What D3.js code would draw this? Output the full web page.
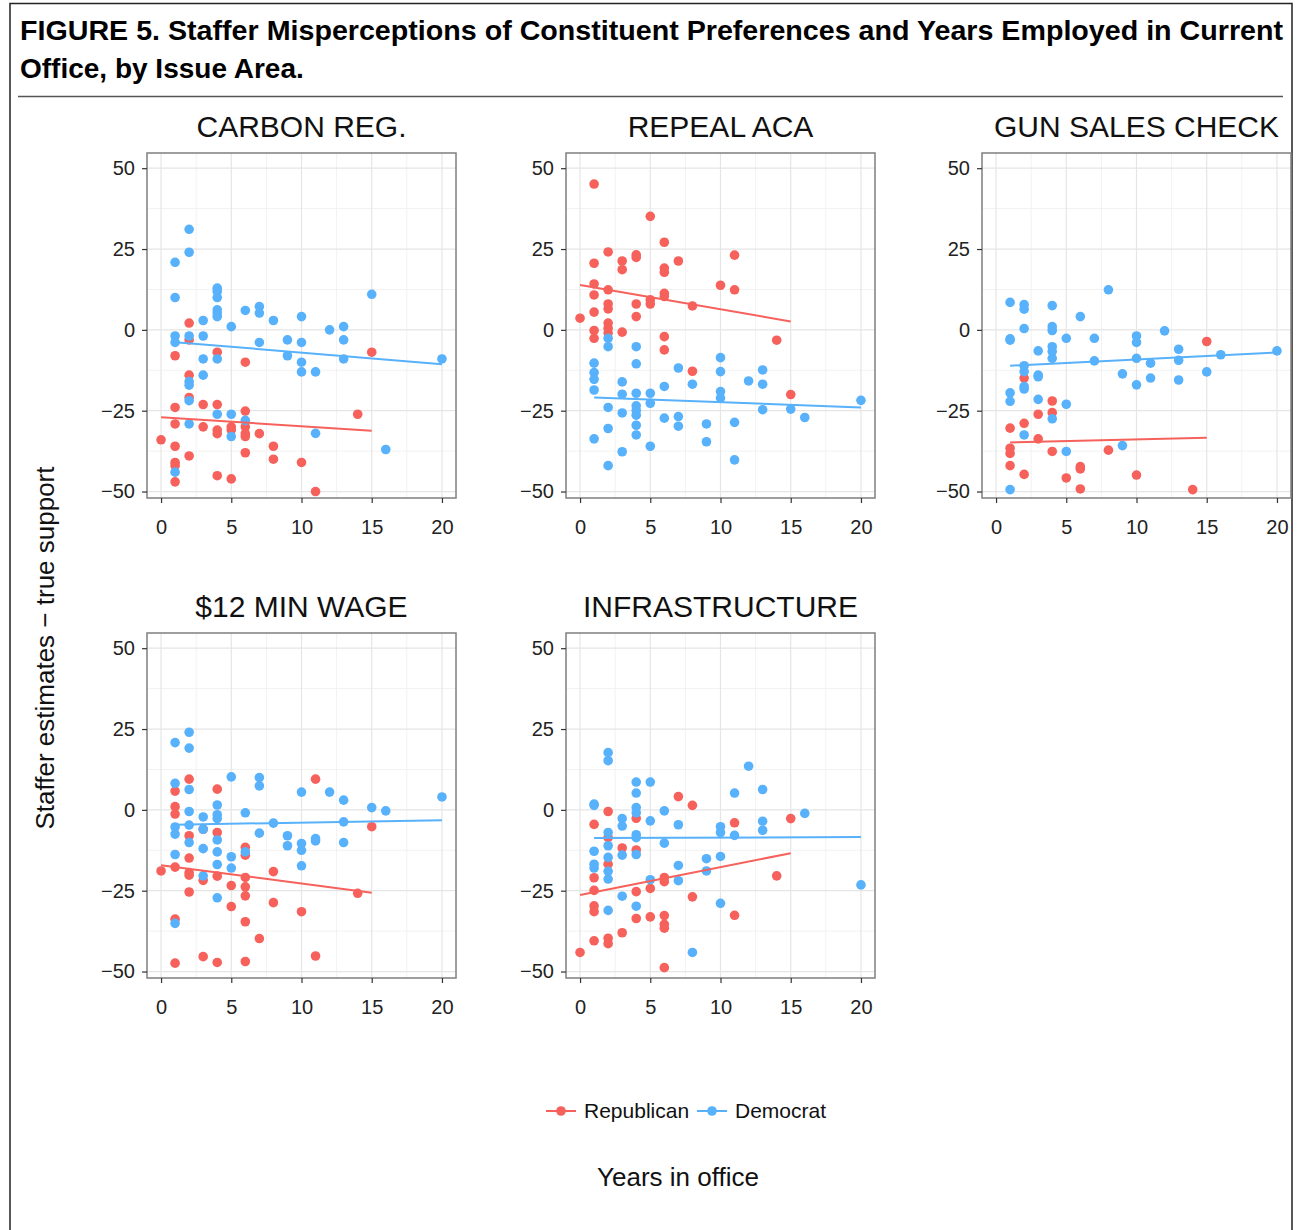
<!DOCTYPE html>
<html>
<head>
<meta charset="utf-8">
<script src="https://cdn.jsdelivr.net/npm/d3@7"></script>
<style>
	body { margin: 0; background: #fff; }
	text { font-family: "Liberation Sans", Arial, Helvetica, sans-serif; }
</style>
</head>
<body>
<div id="container"></div>
<script>
// Chart dimensions
const width = 1300;
const height = 1230;

const red = "#F6615B";
const blue = "#58B1FB";

const panelTitles = ["CARBON REG.", "REPEAL ACA", "GUN SALES CHECK", "$12 MIN WAGE", "INFRASTRUCTURE"];
const parties = ["Republican", "Democrat"];
const xTicks = [0, 5, 10, 15, 20];
const yTicks = [-50, -25, 0, 25, 50];

// [years in office, staffer estimate - true support]
const carbonRep = [[2,2.1],[2,-3.1],[1,-8.0],[4,-6.9],[6,-10.0],[2,-14.0],[2,-20.9],[1,-24.0],[3,-23.1],[4,-23.1],[6,-25.1],[1,-29.1],[3,-30.0],[4,-31.0],[4,-32.1],[5,-30.0],[5,-31.0],[6,-30.0],[6,-32.1],[6,-33.0],[7,-32.1],[14,-26.1],[15,-6.9],[0,-34.0],[1,-36.0],[8,-36.0],[2,-39.0],[6,-38.0],[8,-40.0],[10,-41.0],[1,-41.0],[1,-42.0],[4,-45.1],[5,-46.1],[1,-47.0],[11,-50.0]];
const carbonDem = [[2,31.1],[2,24.0],[1,20.9],[1,10.0],[4,12.9],[4,11.9],[4,10.0],[4,6.2],[4,5.2],[4,4.1],[3,2.9],[5,1.0],[6,6.0],[7,7.2],[7,5.2],[8,2.9],[10,4.1],[15,11.0],[1,-1.9],[1,-3.9],[2,-1.9],[3,-1.9],[7,-3.9],[9,-3.1],[10,-3.9],[12,0],[13,1.0],[13,-3.1],[9,-8.0],[10,-10.0],[10,-13.0],[11,-13.0],[13,-9.0],[20,-9.0],[3,-9.0],[4,-9.0],[3,-14.0],[2,-16.0],[2,-17.1],[2,-21.9],[2,-29.1],[4,-26.1],[5,-26.1],[6,-28.0],[5,-33.0],[11,-32.0],[16,-37.0],[1,-44.0]];

const acaRep = [[1,45.1],[5,35.1],[6,27.1],[2,24.1],[4,23.2],[4,22.4],[3,21.3],[3,18.6],[1,20.6],[7,21.3],[6,19.1],[6,17.8],[11,23.1],[1,14.2],[1,10.8],[2,12.4],[10,13.8],[11,12.4],[1,5.5],[0,3.6],[2,8.0],[2,6.5],[4,8.0],[4,4.1],[5,9.3],[5,8.0],[6,11.3],[6,10.3],[8,7.4],[2,2.1],[2,0.5],[2,-1.0],[1,-0.2],[1,-2.6],[3,-0.7],[6,-2.1],[6,-6.2],[14,-3.2],[8,-12.8],[15,-20.0]];
const acaDem = [[2,-2.6],[2,-5.2],[4,-5.2],[1,-10.3],[4,-10.5],[1,-13.2],[1,-15.3],[1,-18.6],[7,-11.8],[10,-8.6],[10,-12.9],[13,-12.4],[12,-15.8],[13,-16.8],[3,-16.1],[8,-16.8],[6,-17.5],[3,-19.9],[4,-19.6],[5,-19.6],[5,-22.7],[4,-23.5],[4,-24.9],[4,-26.4],[10,-19.1],[10,-21.1],[2,-24.0],[3,-25.7],[6,-27.3],[7,-26.8],[7,-29.8],[13,-24.7],[15,-24.5],[16,-27.1],[20,-21.8],[9,-29.1],[11,-28.6],[4,-29.5],[4,-32.5],[2,-30.5],[1,-33.7],[9,-34.6],[5,-36.0],[3,-37.7],[2,-42.0],[11,-40.2]];

const gunRep = [[15,-3.6],[2,-14.9],[4,-22.0],[4,-25.6],[3,-26.1],[2,-28.9],[1,-30.4],[3,-33.7],[1,-36.6],[1,-38.2],[4,-37.6],[8,-37.2],[1,-42.0],[2,-44.7],[6,-42.3],[6,-43.0],[5,-45.8],[10,-44.9],[6,-49.2],[14,-49.4]];
const gunDem = [[8,12.4],[1,8.5],[2,7.8],[2,6.4],[4,7.5],[6,4.1],[2,0.4],[4,1.0],[4,-0.2],[1,-2.8],[1,-3.2],[5,-2.6],[7,-2.6],[10,-1.9],[10,-3.9],[12,-0.3],[3,-6.5],[4,-5.2],[4,-6.7],[4,-8.8],[7,-9.6],[10,-8.8],[11,-10.3],[13,-6.0],[13,-9.4],[16,-7.7],[20,-6.5],[2,-11.1],[2,-12.9],[3,-14.0],[3,-14.5],[9,-13.6],[10,-17.0],[11,-14.9],[13,-15.5],[15,-13.0],[2,-17.5],[2,-18.3],[1,-19.5],[1,-22.1],[3,-21.5],[5,-23.0],[4,-27.5],[2,-32.5],[9,-35.8],[5,-37.6],[1,-49.4]];

const wageRep = [[2,9.5],[4,6.4],[11,9.5],[1,5.8],[1,1.0],[1,-1.3],[2,-8.0],[3,-6.0],[4,-7.0],[15,-5.2],[6,-11.6],[6,-14.0],[2,-14.9],[0,-18.9],[1,-17.7],[2,-19.4],[2,-20.2],[3,-21.8],[4,-20.5],[6,-20.9],[6,-23.8],[8,-19.1],[5,-23.4],[2,-25.4],[6,-26.6],[14,-25.8],[5,-29.9],[8,-28.7],[10,-31.5],[1,-33.8],[6,-34.6],[7,-39.8],[3,-45.4],[11,-45.2],[1,-47.4],[4,-47.2],[6,-46.9]];
const wageDem = [[2,24.0],[1,20.8],[2,19.1],[5,10.2],[7,10.0],[7,7.4],[1,8.2],[2,6.3],[10,5.5],[12,5.5],[13,3.0],[15,0.7],[16,-0.3],[20,4.0],[4,1.5],[2,-0.5],[3,-2.2],[4,-1.5],[4,-2.7],[6,-0.9],[1,-5.3],[1,-7.5],[2,-4.7],[3,-6.0],[8,-4.1],[13,-3.7],[4,-9.3],[2,-10.1],[7,-7.2],[9,-8.0],[9,-11.1],[10,-10.4],[10,-12.5],[11,-8.9],[11,-9.6],[13,-10.1],[3,-12.0],[4,-13.0],[6,-13.0],[1,-13.8],[5,-14.5],[4,-16.9],[5,-18.0],[10,-17.3],[3,-20.4],[4,-27.2],[1,-35.1]];

const infraRep = [[7,4.1],[8,1.4],[2,-0.5],[4,-2.6],[1,-4.5],[15,-2.7],[11,-4.0],[2,-8.6],[3,-11.8],[4,-12.4],[2,-16.8],[14,-20.4],[1,-21.0],[6,-20.9],[6,-22.2],[1,-24.9],[4,-25.3],[5,-24.3],[8,-26.9],[1,-29.7],[1,-31.5],[11,-32.6],[5,-33.1],[4,-33.6],[6,-32.7],[6,-35.4],[6,-36.6],[3,-38.0],[1,-40.5],[2,-39.7],[2,-41.4],[0,-44.1],[6,-48.8]];
const infraDem = [[2,17.7],[2,15.2],[12,13.5],[4,8.6],[5,8.6],[4,5.2],[11,5.2],[13,6.3],[1,1.8],[1,1.4],[4,0.7],[4,-0.9],[6,-0.3],[16,-1.1],[3,-2.7],[3,-5.0],[5,-3.4],[7,-4.6],[13,-3.5],[13,-6.3],[10,-5.2],[10,-7.0],[11,-7.9],[2,-7.0],[2,-11.1],[4,-7.7],[4,-8.6],[6,-10.3],[1,-12.8],[2,-14.7],[3,-14.0],[4,-13.8],[9,-15.1],[10,-14.4],[1,-16.8],[1,-18.0],[2,-19.0],[2,-21.4],[7,-17.2],[9,-18.9],[5,-21.6],[7,-21.9],[3,-26.7],[10,-28.9],[4,-29.8],[2,-31.1],[8,-44.1],[20,-23.2]];

// Linear fit end points: [x0, y0, x1, y1]
const fitRep = [[0,-27.0,15,-31.2],[0,13.9,15,2.6],[1,-34.8,15,-33.4],[0,-17.1,15,-25.6],[0,-26.3,15,-13.4]];
const fitDem = [[1,-3.8,20,-10.6],[1,-20.9,20,-24.0],[1,-11.1,20,-7.0],[1,-4.6,20,-3.2],[1,-8.7,20,-8.4]];

const repData = [carbonRep, acaRep, gunRep, wageRep, infraRep];
const demData = [carbonDem, acaDem, gunDem, wageDem, infraDem];

// Panel layout
const panelW = 309;
const panelH = 345;
const colLeft = [147, 566, 982];
const rowTop = [153, 633];

const x = d3.scaleLinear()
	.domain([-1, 21])
	.range([0, panelW]);

const y = d3.scaleLinear()
	.domain([-52, 54.7])
	.range([panelH, 0]);

const svg = d3.select("#container").append("svg")
	.attr("width", width)
	.attr("height", height)
	.style("display", "block");

// Frame
svg.append("rect")
	.attr("x", 10)
	.attr("y", 3.5)
	.attr("width", 1282)
	.attr("height", 1240)
	.attr("fill", "none")
	.attr("stroke", "#222")
	.attr("stroke-width", 1.5);

// Figure title
svg.append("text")
	.attr("x", 20)
	.attr("y", 40)
	.attr("font-size", 27)
	.attr("font-weight", "bold")
	.attr("textLength", 1263)
	.attr("lengthAdjust", "spacingAndGlyphs")
	.text("FIGURE 5. Staffer Misperceptions of Constituent Preferences and Years Employed in Current");

svg.append("text")
	.attr("x", 20)
	.attr("y", 78)
	.attr("font-size", 28)
	.attr("font-weight", "bold")
	.text("Office, by Issue Area.");

svg.append("line")
	.attr("x1", 18).attr("x2", 1283)
	.attr("y1", 96.5).attr("y2", 96.5)
	.attr("stroke", "#555")
	.attr("stroke-width", 1.5);

const line = d3.line()
	.x(d => x(d[0]))
	.y(d => y(d[1]));

panelTitles.forEach((title, i) => {
	const g = svg.append("g")
		.attr("transform", `translate(${colLeft[i % 3]},${rowTop[Math.floor(i / 3)]})`);

	// minor grid
	g.selectAll(".xminor")
		.data([2.5, 7.5, 12.5, 17.5])
		.join("line")
			.attr("x1", d => x(d)).attr("x2", d => x(d))
			.attr("y1", 0).attr("y2", panelH)
			.attr("stroke", "#F2F2F2")
			.attr("stroke-width", 1);
	g.selectAll(".yminor")
		.data([-37.5, -12.5, 12.5, 37.5])
		.join("line")
			.attr("y1", d => y(d)).attr("y2", d => y(d))
			.attr("x1", 0).attr("x2", panelW)
			.attr("stroke", "#F2F2F2")
			.attr("stroke-width", 1);

	// major grid
	g.append("g")
		.selectAll("line")
		.data(xTicks)
		.join("line")
			.attr("x1", d => x(d)).attr("x2", d => x(d))
			.attr("y1", 0).attr("y2", panelH)
			.attr("stroke", "#E5E5E5")
			.attr("stroke-width", 1.2);
	g.append("g")
		.selectAll("line")
		.data(yTicks)
		.join("line")
			.attr("y1", d => y(d)).attr("y2", d => y(d))
			.attr("x1", 0).attr("x2", panelW)
			.attr("stroke", "#E5E5E5")
			.attr("stroke-width", 1.2);

	// points
	g.selectAll(".rep")
		.data(repData[i])
		.join("circle")
			.attr("class", "rep")
			.attr("cx", d => x(d[0]))
			.attr("cy", d => y(d[1]))
			.attr("r", 4.8)
			.attr("fill", red);
	g.selectAll(".dem")
		.data(demData[i])
		.join("circle")
			.attr("class", "dem")
			.attr("cx", d => x(d[0]))
			.attr("cy", d => y(d[1]))
			.attr("r", 4.8)
			.attr("fill", blue);

	// fit lines
	[[fitRep[i], red], [fitDem[i], blue]].forEach(([f, c]) => {
		g.append("path")
			.attr("d", line([[f[0], f[1]], [f[2], f[3]]]))
			.attr("fill", "none")
			.attr("stroke", c)
			.attr("stroke-width", 2);
	});

	// panel border
	g.append("rect")
		.attr("width", panelW)
		.attr("height", panelH)
		.attr("fill", "none")
		.attr("stroke", "#7F7F7F")
		.attr("stroke-width", 1.5);

	// axes
	const ax = g.append("g")
		.attr("transform", `translate(0,${panelH})`)
		.call(d3.axisBottom(x).tickValues(xTicks).tickSize(5).tickPadding(17));
	const ay = g.append("g")
		.call(d3.axisLeft(y).tickValues(yTicks).tickSize(5).tickPadding(7));
	[ax, ay].forEach(a => {
		a.select(".domain").remove();
		a.selectAll(".tick line").attr("stroke", "#333").attr("stroke-width", 1.2);
		a.selectAll(".tick text")
			.attr("font-size", 20)
			.attr("font-family", "'Liberation Sans', Arial, sans-serif")
			.attr("fill", "#222");
	});

	// facet title
	g.append("text")
		.attr("x", panelW / 2)
		.attr("y", -16)
		.attr("text-anchor", "middle")
		.attr("font-size", 30)
		.attr("fill", "#111")
		.text(title);
});

// Axis titles
svg.append("text")
	.attr("transform", "translate(54,648) rotate(-90)")
	.attr("text-anchor", "middle")
	.attr("font-size", 26)
	.attr("fill", "#111")
	.text("Staffer estimates \u2212 true support");

svg.append("text")
	.attr("x", 678)
	.attr("y", 1186)
	.attr("text-anchor", "middle")
	.attr("font-size", 26)
	.attr("fill", "#111")
	.text("Years in office");

// Legend
const legendX = [546, 697];
const legendLabelX = [584, 735];
const legendColors = [red, blue];
const legend = svg.append("g");
parties.forEach((p, i) => {
	legend.append("line")
		.attr("x1", legendX[i]).attr("x2", legendX[i] + 30)
		.attr("y1", 1111).attr("y2", 1111)
		.attr("stroke", legendColors[i])
		.attr("stroke-width", 2);
	legend.append("circle")
		.attr("cx", legendX[i] + 15)
		.attr("cy", 1111)
		.attr("r", 4.8)
		.attr("fill", legendColors[i]);
	legend.append("text")
		.attr("x", legendLabelX[i])
		.attr("y", 1118)
		.attr("font-size", 21)
		.attr("fill", "#111")
		.text(p);
});
</script>
</body>
</html>
